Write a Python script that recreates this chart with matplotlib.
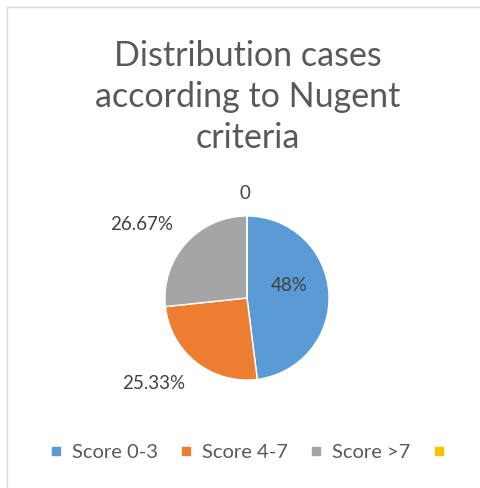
import matplotlib.pyplot as plt
from matplotlib.patches import Rectangle
from matplotlib.lines import Line2D
import numpy as np

categories = ['Score 0-3', 'Score 4-7', 'Score >7', '']
values = [48, 25.33, 26.67, 0]
value_labels = ['48%', '25.33%', '26.67%', '0']
colors = ['#5B9BD5', '#ED7D31', '#A5A5A5', '#FFC000']
# (angle shift from slice middle in degrees, distance in radii)
label_place = [(13, 0.54), (-9, 1.54), (7, 1.57), (1, 1.27)]

plt.rcParams['font.family'] = ['Lato', 'DejaVu Sans']

W, H = 481, 488
fig = plt.figure(figsize=(W / 100, H / 100), dpi=100)
ax = fig.add_axes([0, 0, 1, 1])

cx, cy, r = 247, H - 298, 82
wedges, _ = ax.pie(values, colors=colors, startangle=90, counterclock=False,
                   center=(cx, cy), radius=r, explode=[0.045] * 4,
                   wedgeprops=dict(edgecolor='white', linewidth=1),
                   normalize=True, frame=True)
ax.set_xlim(0, W)
ax.set_ylim(0, H)
ax.set_aspect('auto')
ax.axis('off')

# chart frame
ax.add_patch(Rectangle((7, -10), W + 10, H - 7 + 10, fill=False,
                       edgecolor='#d9d9d9', linewidth=1))

for w, lab, (shift, d) in zip(wedges, value_labels, label_place):
    ang = np.deg2rad((w.theta1 + w.theta2) / 2 + shift)
    x = cx + d * r * np.cos(ang)
    y = cy + d * r * np.sin(ang)
    ax.text(x, y, lab, ha='center', va='center', fontsize=13.5, color='#404040')

ax.text(248, H - 97, 'Distribution cases\naccording to Nugent\ncriteria',
        ha='center', va='center', fontsize=24.5, color='#595959',
        linespacing=1.33)

handles = [Line2D([], [], marker='s', linestyle='', markersize=6,
                  markerfacecolor=c, markeredgecolor=c) for c in colors]
ax.legend(handles, categories, loc='center', bbox_to_anchor=(0.523, 1 - 452 / H),
          ncol=4, frameon=False, fontsize=14.5, handlelength=0.7,
          handletextpad=0.45, columnspacing=1.05, labelcolor='#595959')

fig.savefig('out.png', dpi=100)
